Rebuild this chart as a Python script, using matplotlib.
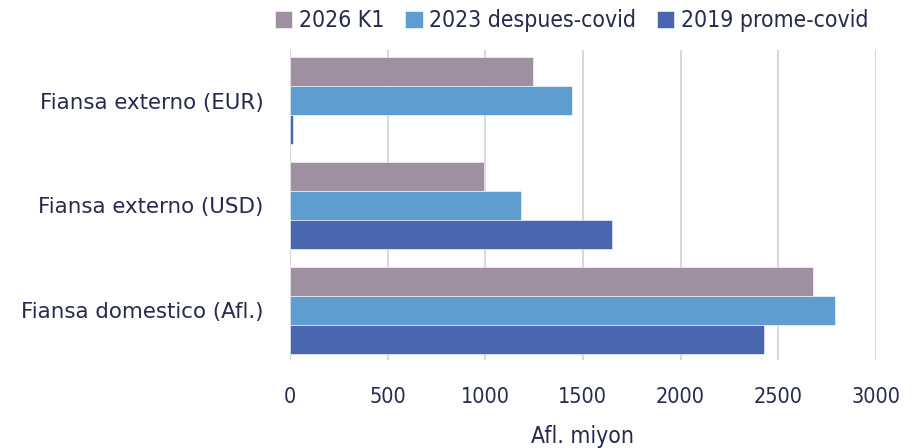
import matplotlib
matplotlib.use('Agg')
import matplotlib.pyplot as plt
import numpy as np

# data (Afl. miyon), categories listed bottom -> top
categories = ["Fiansa domestico (Afl.)", "Fiansa externo (USD)", "Fiansa externo (EUR)"]
series_names = ["2026 K1", "2023 despues-covid", "2019 prome-covid"]
vals_2026 = [2680, 995, 1245]
vals_2023 = [2790, 1185, 1445]
vals_2019 = [2425, 1650, 15]
x_ticks = [0, 500, 1000, 1500, 2000, 2500, 3000]

COLORS = ["#9E90A0", "#5F9DD1", "#4966AE"]
TEXT = "#252A4E"
GRID = "#D9D9D9"

plt.rcParams['font.family'] = ['DejaVu Sans']
NARROW = dict(family='DejaVu Sans', stretch='condensed')

fig = plt.figure(figsize=(9.18, 4.48), dpi=100)
ax = fig.add_axes([0.316, 0.196, 0.638, 0.692])

y = np.arange(len(categories))
h = 0.277
for i, (vals, name, c) in enumerate(zip([vals_2026, vals_2023, vals_2019], series_names, COLORS)):
    ax.barh(y + (1 - i) * h, vals, height=h, color=c, label=name,
            edgecolor="white", linewidth=0.4, zorder=3)

ax.set_xlim(0, 3000)
ax.set_ylim(-0.476, 2.48)
ax.set_xticks(x_ticks)
ax.set_xticklabels([str(t) for t in x_ticks], fontsize=15.5, **NARROW)
ax.set_yticks(y)
ax.set_yticklabels(categories, fontsize=15.4)
ax.tick_params(axis='both', length=0, colors=TEXT)
ax.tick_params(axis='x', pad=19)
ax.tick_params(axis='y', pad=19)
ax.xaxis.grid(True, color=GRID, linewidth=1.5, zorder=0)
for s in ax.spines.values():
    s.set_visible(False)
ax.set_xlabel("Afl. miyon", color=TEXT, fontsize=16.5, labelpad=13, **NARROW)

handles, labels = ax.get_legend_handles_labels()
fig.legend(handles, labels, loc='upper center', bbox_to_anchor=(0.623, 1.025),
           ncol=3, frameon=False, handlelength=0.75, handleheight=0.75,
           handletextpad=0.3, columnspacing=0.9, labelcolor=TEXT,
           prop=dict(size=16.5, **NARROW))

fig.savefig("out.png", dpi=100)
